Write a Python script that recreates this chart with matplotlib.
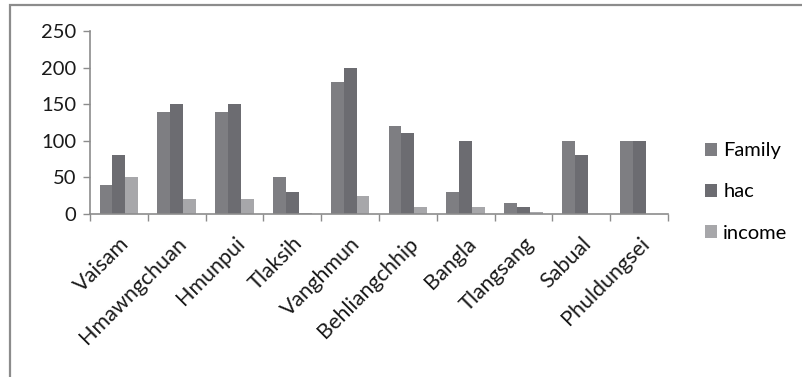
import numpy as np
import matplotlib.pyplot as plt
import matplotlib.transforms as mtransforms
from matplotlib.patches import Rectangle

plt.rcParams['font.family'] = ['Lato', 'DejaVu Sans']

villages = ['Vaisam', 'Hmawngchuan', 'Hmunpui', 'Tlaksih', 'Vanghmun',
            'Behliangchhip', 'Bangla', 'Tlangsang', 'Sabual', 'Phuldungsei']
family = [40, 140, 140, 50, 180, 120, 30, 15, 100, 100]
hac = [80, 150, 150, 30, 200, 110, 100, 10, 80, 100]
income = [50, 20, 20, 2, 25, 10, 10, 3, 0, 0]

series = [('Family', family, '#7e7e82'),
          ('hac', hac, '#6c6c71'),
          ('income', income, '#a7a7aa')]

fig = plt.figure(figsize=(8.03, 3.77), dpi=100)
ax = fig.add_axes([90 / 803, 1 - 214 / 377, 578 / 803, 183 / 377])

# outer chart frame (cut off on the right and bottom)
fig.patches.append(Rectangle((10 / 803, -0.1), 1.2, 1 - 5 / 377 + 0.1,
                             transform=fig.transFigure, fill=False,
                             edgecolor='#8c8c8c', linewidth=1.6))

x = np.arange(len(villages))
w = 1 / 4.5
for i, (name, vals, col) in enumerate(series):
    ax.bar(x + (i - 1) * w, vals, width=w, color=col, label=name)

ax.set_xlim(-0.5, len(villages) - 0.5)
ax.set_ylim(0, 250)
ax.set_yticks(range(0, 251, 50))

# category boundaries carry the tick marks, labels sit in the middle
ax.set_xticks(np.arange(-0.5, len(villages)), labels=[])
ax.set_xticks(x, labels=villages, minor=True)
ax.tick_params(axis='x', which='major', length=5, color='#8c8c8c', width=1)
ax.tick_params(axis='x', which='minor', length=0, pad=19)
ax.tick_params(axis='y', length=5, color='#8c8c8c', width=1, labelsize=14.5,
               labelcolor='#1a1a1a', pad=5)
shift = mtransforms.ScaledTranslation(7 / 100, 0, fig.dpi_scale_trans)
for lab in ax.get_xticklabels(minor=True):
    lab.set_rotation(45)
    lab.set_ha('right')
    lab.set_va('center')
    lab.set_rotation_mode('anchor')
    lab.set_fontsize(15.5)
    lab.set_color('#1a1a1a')
    lab.set_transform(lab.get_transform() + shift)

for s in ['top', 'right']:
    ax.spines[s].set_visible(False)
for s in ['left', 'bottom']:
    ax.spines[s].set_color('#8c8c8c')
    ax.spines[s].set_linewidth(1.2)

fig.legend(loc='center left', bbox_to_anchor=(687 / 803, 1 - 192 / 377),
           frameon=False, fontsize=14.5, handlelength=0.6, handleheight=0.6,
           handletextpad=0.3, labelspacing=1.2)

fig.savefig('out.png', dpi=100)
